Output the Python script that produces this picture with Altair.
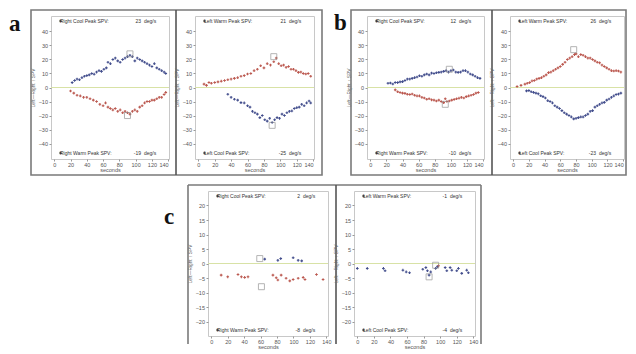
import altair as alt
import pandas as pd

BLUE = "#2d3a80"
RED = "#b4463c"
ZERO = "#d8e2a6"

# ---------------- data (seconds, SPV deg/s) ----------------
a1_blue_t = [22,25,28,31,34,37,40,43,46,49,52,55,58,61,64,66,69,72,75,78,81,84,87,90,93,96,99,102,105,108,111,114,117,120,123,126,129,132,135,137]
a1_blue_v = [3.5,5,6,5.5,7,8,8.5,9,10,9.5,11,12,11.5,13,14,18,17,20,21,19,18,20,21,22,23,22,19,21,20,19,18,17,16,15,17,14,13,12,11,10]
a1_red_t = [20,24,28,32,36,40,44,48,52,56,60,63,66,69,72,75,78,81,84,87,90,93,96,99,102,105,108,111,114,117,120,123,126,129,132,135,137]
a1_red_v = [-2.5,-4,-5.5,-6,-7,-7,-8,-9,-10,-12,-13,-11,-14,-15,-16,-15,-17,-16,-18,-17,-18,-19,-17,-16,-17,-14,-13,-11,-10,-10,-9,-9,-8,-7,-7,-5,-3.5]
a1_peak_t = [93, 90]
a1_peak_v = [24, -20]

a2_red_t = [7,10,13,16,20,24,28,32,36,40,44,48,52,56,60,64,68,72,76,80,84,88,92,95,98,101,104,107,110,113,116,119,122,125,128,131,134,137]
a2_red_v = [2.4,1.5,3.6,3,3.6,4,4.5,5,5.5,6,6.5,7,8,8.5,9.6,10,12,13,15.5,14,17,16,18.4,21,17,15.5,16,14.4,15,13,13,12,10.8,11,10,9.6,10,8]
a2_blue_t = [36,40,44,48,52,56,60,63,66,69,72,75,78,81,84,87,90,93,96,99,102,105,108,111,114,117,120,123,126,129,132,135,137]
a2_blue_v = [-4.8,-7,-8.4,-9,-10.8,-11,-13,-14,-17,-18,-19,-21.5,-20,-23,-24,-22,-25,-23,-21.5,-22,-19,-20,-18,-17,-16.7,-15,-14.4,-14,-12,-13,-11,-9.6,-11]
a2_peak_t = [92, 90]
a2_peak_v = [22, -27]

b1_blue_t = [22,25,28,31,34,37,40,43,46,49,52,55,58,61,64,67,70,73,76,79,82,85,88,91,94,97,100,103,106,109,112,115,118,121,124,127,130,133,136]
b1_blue_v = [3,3.2,2.5,3.6,3.5,4,4.2,5,6,6,6.5,7,7.5,8.4,8,9,9.6,9,10.3,10,10.5,10.8,11,11.5,12,11,12,12.5,11,10.8,11,12,12,11,9.6,9,8,7,6.5]
b1_red_t = [31,34,37,40,43,46,49,52,55,58,61,64,67,70,73,76,79,82,85,88,91,93,95,98,101,104,107,110,113,116,119,122,125,128,131,134]
b1_red_v = [-1.7,-3,-3.6,-4,-4.2,-4.8,-5,-4.6,-5.5,-6,-6,-7,-7.5,-8.4,-8,-8.8,-9,-9.6,-9,-10,-10.8,-8,-10,-9.6,-9,-8.5,-8,-7.6,-7,-7.5,-6.5,-6,-5.5,-5,-4,-3.6]
b1_peak_t = [98, 93]
b1_peak_v = [13, -12]

b2_red_t = [5,10,15,18,21,24,27,30,33,36,39,42,45,48,51,54,57,60,63,66,69,72,75,78,80,83,86,89,92,95,98,101,104,107,110,113,116,119,122,125,128,131,134,137]
b2_red_v = [0.7,1.5,2.4,3,3.5,4.7,5,6,6.5,7,8,9,10.6,11,12,13,14,15,16.5,18,20,21,22,23.5,24,22,23.5,23,22,21,21,20,19,18,17.6,16,15,14,13,12,11.8,12,11.8,11]
b2_blue_t = [17,20,23,26,29,32,35,38,41,44,47,50,53,56,59,62,65,68,71,74,77,80,83,86,89,92,95,98,101,104,107,110,113,116,119,122,125,128,131,134,137]
b2_blue_v = [-2.4,-2.2,-3,-3.5,-4,-4.5,-5.9,-6.5,-7.5,-9.4,-10,-11,-13,-14,-15,-16.5,-18,-19,-20,-21,-22.4,-22,-21.5,-21,-21,-20,-19,-17,-16.5,-14,-13,-12,-11,-10.6,-9,-8.2,-7,-6,-5,-4.7,-4]
b2_peak_t = [77]
b2_peak_v = [27]

c1_blue_t = [65,81,84.5,99.6,105.7,110]
c1_blue_v = [1.5,1.1,1.7,2,1.1,0.9]
c1_red_t = [12,20,32.5,36.6,40.6,44.7,75,79,81,85,91,95.5,99.6,105.7,111.8,114,128,136]
c1_red_v = [-4,-4.6,-3.8,-4.6,-4.8,-4.6,-4,-4.9,-5.7,-4,-5.1,-6,-5.5,-5.1,-4.8,-5.5,-3.8,-5.5]
c1_peak_t = [59, 61]
c1_peak_v = [1.7, -8]

c2_blue_t = [0,12,31.5,33.5,55,59,63,79,82.7,84.6,86.6,88.6,94.5,96.5,106,108,112,114,120,122,126,132,134]
c2_blue_v = [-1.7,-1.7,-1.7,-2.5,-2.3,-2.9,-3.2,-2,-1.4,-2.5,-4,-2.9,-1.7,-1.1,-1.4,-2.5,-1.4,-2.3,-2.5,-1.7,-3.4,-2.3,-3.2]
c2_red_t = [98]
c2_red_v = [-0.8]
c2_peak_t = [94.5, 86.6]
c2_peak_v = [-0.6, -4.6]

top_labels = ["Right Cool Peak SPV:", "Left Warm Peak SPV:", "Right Cool Peak SPV:", "Left Warm Peak SPV:", "Right Cool Peak SPV:", "Left Warm Peak SPV:"]
top_values = ["23", "21", "12", "26", "2", "-1"]
bottom_labels = ["Right Warm Peak SPV:", "Left Cool Peak SPV:", "Right Warm Peak SPV:", "Left Cool Peak SPV:", "Right Warm Peak SPV:", "Left Cool Peak SPV:"]
bottom_values = ["-19", "-25", "-10", "-23", "-8", "-4"]

x_ticks = [0, 20, 40, 60, 80, 100, 120, 140]
y_ticks_ab = [-40, -30, -20, -10, 0, 10, 20, 30, 40]
y_ticks_c = [-20, -15, -10, -5, 0, 5, 10, 15, 20]
panel_letters = ["a", "b", "c"]

ONE = pd.DataFrame({"k": [0]})
FONT = "Liberation Sans"


def deco_rect(x1, x2, y1, y2, color="#7a7a7a", sw=1.6):
    return alt.Chart(ONE).mark_rect(fillOpacity=0, stroke=color, strokeWidth=sw).encode(
        x=alt.value(x1), x2=alt.value(x2), y=alt.value(y1), y2=alt.value(y2))


def deco_rule(x1, x2, y1, y2, color="#555", sw=1.6):
    return alt.Chart(ONE).mark_rule(color=color, strokeWidth=sw).encode(
        x=alt.value(x1), x2=alt.value(x2), y=alt.value(y1), y2=alt.value(y2))


def letter(txt, x, y):
    return alt.Chart(ONE).mark_text(text=txt, font="Liberation Serif", fontWeight="bold",
                                    fontSize=23, align="left", baseline="alphabetic",
                                    color="#111").encode(x=alt.value(x), y=alt.value(y))


def panel(idx, blue_t, blue_v, red_t, red_v, pk_t, pk_v, ydom, yticks, w, h, xdom, extras):
    xs = alt.Scale(domain=xdom, nice=False, zero=False)
    ys = alt.Scale(domain=ydom, nice=False, zero=False)
    xax = alt.Axis(values=x_ticks, title="seconds", grid=False, domain=False, tickSize=2,
                   labelFontSize=5.5, labelColor="#555", labelPadding=1, tickColor="#999",
                   titleFontSize=5.5, titleColor="#555", titlePadding=0, titleFontWeight="normal")
    yax = alt.Axis(values=yticks, title="Left\u2014Right   \u2191 SPV", grid=False, domain=False,
                   tickSize=2, labelFontSize=5.5, labelColor="#555", labelPadding=1.5,
                   tickColor="#999", titleFontSize=4.8, titleColor="#666", titlePadding=3,
                   titleFontWeight="normal")
    X = alt.X("t:Q", scale=xs, axis=xax)
    Y = alt.Y("v:Q", scale=ys, axis=yax)
    dfb = pd.DataFrame({"t": blue_t, "v": blue_v})
    dfr = pd.DataFrame({"t": red_t, "v": red_v})
    dfp = pd.DataFrame({"t": pk_t, "v": pk_v})
    dfz = pd.DataFrame({"t": [xdom[0], xdom[1]], "v": [0, 0]})
    zero = alt.Chart(dfz).mark_line(color=ZERO, strokeWidth=1).encode(x=X, y=Y)
    blue = alt.Chart(dfb).mark_point(shape="cross", filled=True, size=7, color=BLUE, opacity=0.9).encode(x=X, y=Y)
    red = alt.Chart(dfr).mark_point(shape="cross", filled=True, size=7, color=RED, opacity=0.9).encode(x=X, y=Y)
    peaks = alt.Chart(dfp).mark_point(shape="square", filled=False, size=36, color="#8a8a8a",
                                      strokeWidth=0.9).encode(x=X, y=Y)

    def txt(s, x, y, align):
        return alt.Chart(ONE).mark_text(text=s, fontSize=5, color="#333",
                                        align=align, baseline="middle").encode(
            x=alt.value(x), y=alt.value(y))

    texts = [
        txt(top_labels[idx], 9, 5, "left"), txt(top_values[idx], w - 28, 5, "right"),
        txt("deg/s", w - 25, 5, "left"),
        txt(bottom_labels[idx], 9, h - 6, "left"), txt(bottom_values[idx], w - 28, h - 6, "right"),
        txt("deg/s", w - 25, h - 6, "left"),
    ]
    marks = alt.Chart(ONE).mark_point(shape="square", filled=True, size=5, color="#111").encode(
        x=alt.value(9.5), y=alt.value(5))
    marks2 = alt.Chart(ONE).mark_point(shape="square", filled=True, size=5, color="#111").encode(
        x=alt.value(9.5), y=alt.value(h - 6))
    layers = [zero, blue, red, peaks] + texts + [marks, marks2] + extras
    return alt.layer(*layers).properties(width=w, height=h)


def spacer(w, h):
    # invisible placeholder used to offset the next panel
    return alt.Chart(ONE).mark_rule(opacity=0, strokeWidth=0.1).encode(
        x=alt.value(0), x2=alt.value(w), y=alt.value(h / 2)).properties(
        width=w, height=h, view=alt.ViewBackground(stroke=None))


H1 = 143
A1 = panel(0, a1_blue_t, a1_blue_v, a1_red_t, a1_red_v, a1_peak_t, a1_peak_v, [-51, 51], y_ticks_ab,
           118, H1, [-4, 141],
           [deco_rect(-20, 271, -6, 159), deco_rule(125, 125, -6, 159), letter(panel_letters[0], -42, 15)])
A2 = panel(1, a2_blue_t, a2_blue_v, a2_red_t, a2_red_v, a2_peak_t, a2_peak_v, [-51, 51], y_ticks_ab,
           119, H1, [-4, 141], [])
B1 = panel(2, b1_blue_t, b1_blue_v, b1_red_t, b1_red_v, b1_peak_t, b1_peak_v, [-51, 51], y_ticks_ab,
           117, H1, [-4, 141],
           [deco_rect(-16, 259, -6, 159), deco_rule(125, 125, -6, 159), letter(panel_letters[1], -33, 14)])
B2 = panel(3, b2_blue_t, b2_blue_v, b2_red_t, b2_red_v, b2_peak_t, b2_peak_v, [-51, 51], y_ticks_ab,
           114, H1, [-4, 141], [])
H2 = 145
C1 = panel(4, c1_blue_t, c1_blue_v, c1_red_t, c1_red_v, c1_peak_t, c1_peak_v, [-25, 25], y_ticks_c,
           120, H2, [-4, 142],
           [deco_rule(-20, 273, -6, -6, "#7a7a7a"), deco_rule(-20, -20, -6, H2 + 8, "#7a7a7a"),
            deco_rule(273, 273, -6, H2 + 8, "#7a7a7a"), deco_rule(128, 128, -6, H2 + 8),
            letter(panel_letters[2], -44, 33)])
C2 = panel(5, c2_blue_t, c2_blue_v, c2_red_t, c2_red_v, c2_peak_t, c2_peak_v, [-25, 25], y_ticks_c,
           121, H2, [-4, 142], [])

row1 = alt.hconcat(A1, A2, spacer(1, H1), B1, B2, spacing=26, bounds="flush")
row2 = alt.hconcat(spacer(131, H2), C1, C2, spacing=26, bounds="flush")
chart = alt.vconcat(row1, row2, spacing=6).properties(
    padding=0, background="white"
).configure_view(stroke="#c8c8c8", strokeWidth=1
).configure_axis(labelFont=FONT, titleFont=FONT).configure_text(font=FONT)

chart.save("out.html", embed_options={"renderer": "svg", "actions": False})
